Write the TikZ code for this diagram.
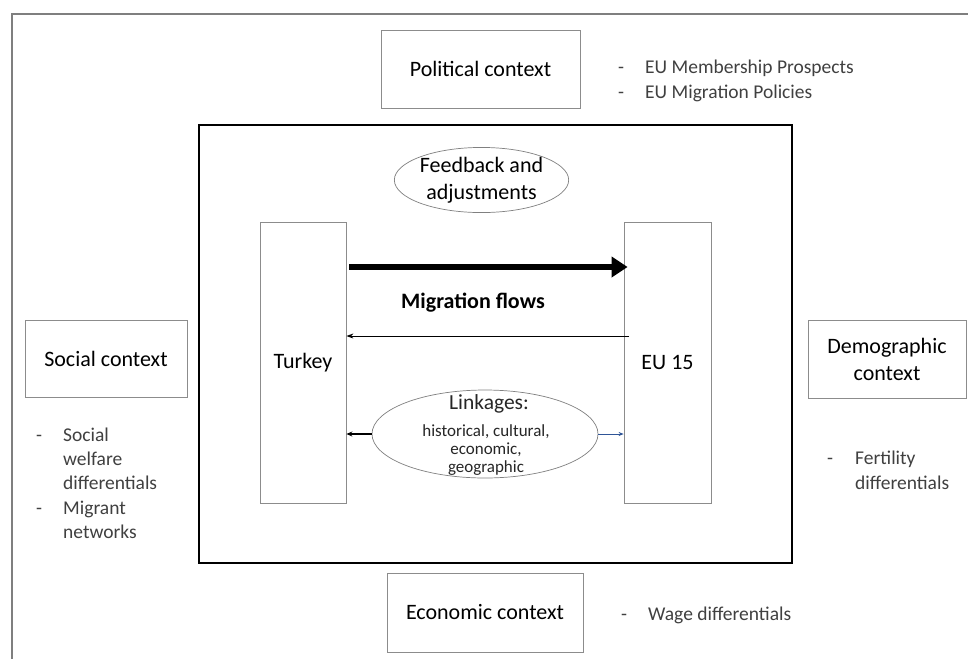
\documentclass[tikz,border=0pt]{standalone}
\usepackage{fontspec}
\setmainfont{Carlito}
\usetikzlibrary{arrows.meta,shapes.geometric}
\definecolor{framegray}{HTML}{7F7F7F}
\definecolor{boxgray}{HTML}{8C8C8C}
\definecolor{bullettext}{HTML}{404040}
\definecolor{linkblue}{HTML}{2F5597}
\begin{document}
\begin{tikzpicture}[x=1pt,y=-1pt,
  ctxbox/.style={draw=boxgray,line width=0.9pt,fill=white,inner sep=0pt,align=center,font=\fontsize{22}{27}\selectfont},
  countrybox/.style={draw=boxgray,line width=0.8pt,inner sep=0pt,font=\fontsize{22}{27}\selectfont},
  ovalnode/.style={draw=gray,ellipse,line width=0.7pt,inner sep=0pt,align=center},
  bullet/.style={anchor=base west,inner sep=0pt,text=bullettext,font=\fontsize{19.5}{24.5}\selectfont},
  dashmark/.style={anchor=base west,inner sep=0pt,text=bullettext,font=\fontsize{19.5}{24.5}\selectfont},
  linktext/.style={anchor=base,inner sep=0pt,text=black!85,font=\fontsize{17}{19}\selectfont}
]
\useasboundingbox (0,0) rectangle (968,659);
\fill[white] (0,0) rectangle (968,659);
% outer frame (top and left)
\coordinate (ftl) at (12,14);
\coordinate (ftr) at (968,14);
\coordinate (fbl) at (12,659);
\draw[framegray,line width=2pt] (ftr) -- (ftl) -- (fbl);
% inner system box
\node[draw=black,line width=1.6pt,minimum width=593pt,minimum height=438pt,inner sep=0pt] (sys) at (495.5,344) {};
% political
\node[ctxbox,minimum width=199pt,minimum height=78pt] (pol) at (480.5,69) {Political context};
\node[dashmark] (pd1) at (618,73) {-};
\node[bullet] (pt1) at (645,73) {EU Membership Prospects};
\node[dashmark] (pd2) at (618,98) {-};
\node[bullet] (pt2) at (645,98) {EU Migration Policies};
% feedback
\node[ovalnode,minimum width=173pt,minimum height=64pt,font=\fontsize{22}{27}\selectfont] (fb) at (481.5,180) {Feedback and\\adjustments};
% Turkey / EU
\node[countrybox,minimum width=86pt,minimum height=281pt] (tr) at (303,362.5) {Turkey};
\node[countrybox,minimum width=87pt,minimum height=281pt] (eu) at (667.5,362.5) {EU 15};
% migration arrows
\coordinate (m1s) at (349,267);
\draw[line width=6pt,-{Triangle[length=16pt,width=20pt]}] (m1s) -- ([xshift=4pt]eu.west |- m1s);
\node[font=\bfseries\fontsize{22}{27}\selectfont] (mf) at (473,303) {Migration flows};
\coordinate (m2s) at (629,336);
\draw[line width=0.9pt,-{Stealth[length=7pt,width=5pt]}] (m2s) -- (tr.east |- m2s);
% linkages
\node[ovalnode,minimum width=226pt,minimum height=88pt] (lk) at (485,434) {};
\node[linktext,font=\fontsize{21.5}{24}\selectfont] (lk1) at (489,409) {Linkages:};
\node[linktext] (lk2) at (486,436) {historical, cultural,};
\node[linktext] (lk3) at (486,454) {economic,};
\node[linktext] (lk4) at (486,472) {geographic};
\draw[line width=1.2pt,-{Stealth[length=6pt,width=5pt]}] (lk.west) -- (tr.east |- lk.west);
\draw[linkblue,line width=0.8pt,-{Stealth[length=5pt,width=4pt]}] (lk.east) -- (eu.west |- lk.east);
% social
\node[ctxbox,minimum width=162pt,minimum height=77pt] (soc) at (106,358.5) {Social context};
\node[dashmark] (sd1) at (36,441) {-};
\node[bullet] (st1) at (63,441) {Social};
\node[bullet] (st2) at (63,465) {welfare};
\node[bullet] (st3) at (63,489) {differentials};
\node[dashmark] (sd2) at (36,514) {-};
\node[bullet] (st4) at (63,514) {Migrant};
\node[bullet] (st5) at (63,538) {networks};
% demographic
\node[ctxbox,minimum width=158pt,minimum height=78pt] (dem) at (887,359) {Demographic\\context};
\node[dashmark] (dd1) at (827,464) {-};
\node[bullet] (dt1) at (855,464) {Fertility};
\node[bullet] (dt2) at (855,489) {differentials};
% economic
\node[ctxbox,minimum width=196pt,minimum height=79pt] (eco) at (485,612.5) {Economic context};
\node[dashmark] (ed1) at (621,620) {-};
\node[bullet] (et1) at (648,620) {Wage differentials};
\end{tikzpicture}
\end{document}
